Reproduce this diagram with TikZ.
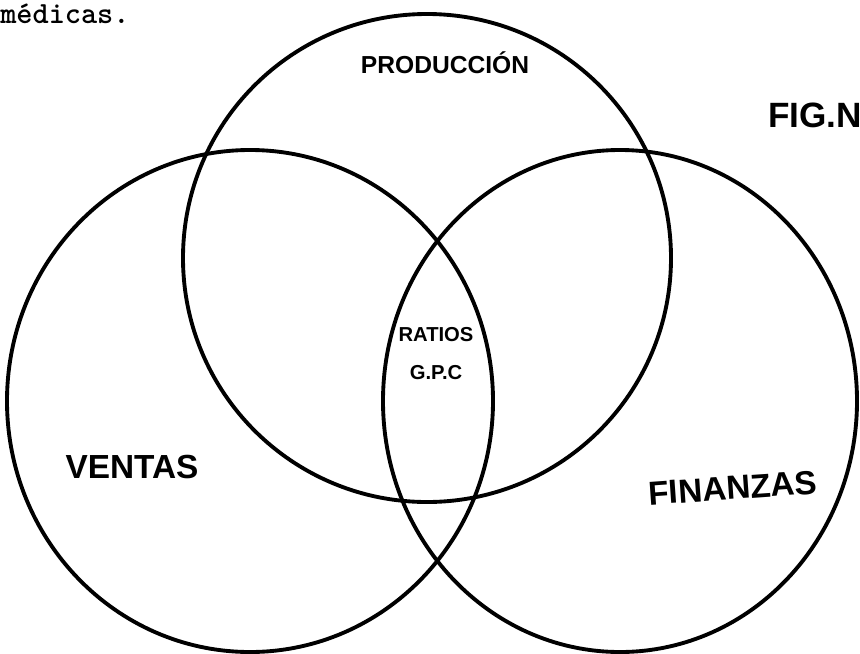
\documentclass[tikz,border=0pt]{standalone}
\usepackage{fontspec}
\newfontfamily\mano{Liberation Sans}
\tikzset{
  trait/.style={line width=2.2pt},
  etiquette/.style={inner sep=0pt, font=\mano\bfseries}
}
\begin{document}
\begin{tikzpicture}[x=0.2mm,y=-0.2mm]
			\useasboundingbox (0,0) rectangle (860,653);
			%Texte du document
			\node[anchor=base west, inner sep=0pt, font=\ttfamily\bfseries\fontsize{17.5}{20}\selectfont] (texte) at (0,23) {médicas.};
			%Cercles du diagramme
			\draw[trait] (427,258) ellipse [x radius=244, y radius=244];
			\draw[trait] (250,401) ellipse [x radius=243, y radius=251];
			\draw[trait] (620,401) ellipse [x radius=237, y radius=251];
			%Etiquettes
			\node[etiquette, font=\mano\bfseries\fontsize{14}{16}\selectfont] (P) at (445,63) {PRODUCCIÓN};
			\node[etiquette, anchor=west, font=\mano\bfseries\fontsize{20}{22}\selectfont] (F) at (768,115) {FIG.N};
			\node[etiquette, align=center, font=\mano\bfseries\fontsize{11.5}{21.6}\selectfont] (R) at (436,354) {RATIOS\\G.P.C};
			\node[etiquette, font=\mano\bfseries\fontsize{19}{22}\selectfont] (V) at (132,467) {VENTAS};
			\node[etiquette, rotate=4, font=\mano\bfseries\fontsize{19}{22}\selectfont] (Fi) at (733,488) {FINANZAS};
\end{tikzpicture}
\end{document}
